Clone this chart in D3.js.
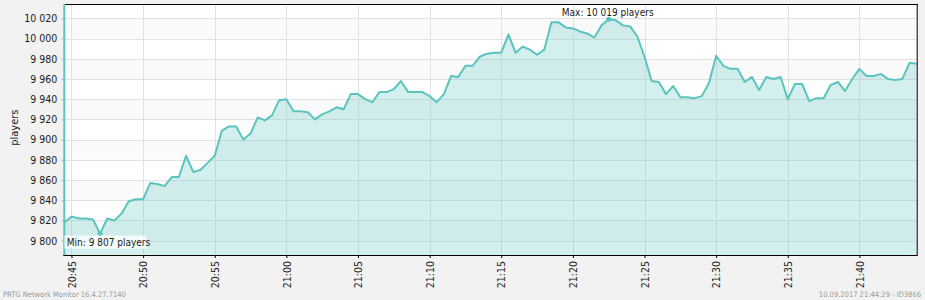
<!DOCTYPE html>
<html>
<head>
<meta charset="utf-8">
<script src="https://cdn.jsdelivr.net/npm/d3@7"></script>
<style>
  html, body { margin: 0; padding: 0; background: #f2f2f2; }
  svg { display: block; }
  text { font-family: 'DejaVu Sans Condensed', 'DejaVu Sans', sans-serif; font-stretch: condensed; }
</style>
</head>
<body>
<svg id="chart" width="925" height="300"></svg>
<script>
// ---- data ----
const startTime = "2017-09-10T20:44:30";
const intervalSeconds = 30;
const players = [
  9818, 9824, 9822, 9822, 9821, 9807, 9822, 9820, 9827, 9839,
  9841, 9841, 9857, 9856, 9854, 9863, 9863, 9884, 9868, 9870,
  9877, 9884, 9909, 9913, 9913, 9900, 9906, 9922, 9919, 9924,
  9939, 9940, 9928, 9928, 9927, 9920, 9925, 9928, 9932, 9930,
  9945, 9945, 9940, 9937, 9947, 9947, 9950, 9958, 9947, 9947,
  9947, 9943, 9937, 9945, 9963, 9962, 9973, 9973, 9982, 9985,
  9986, 9986, 10004, 9986, 9992, 9989, 9984, 9989, 10016, 10016,
  10011, 10010, 10007, 10005, 10001, 10013, 10019, 10018, 10013, 10012,
  10002, 9982, 9958, 9957, 9945, 9953, 9942, 9942, 9941, 9943,
  9956, 9983, 9973, 9970, 9970, 9957, 9962, 9949, 9962, 9960,
  9962, 9940, 9955, 9955, 9938, 9941, 9941, 9954, 9957, 9948,
  9960, 9970, 9963, 9963, 9965, 9960, 9959, 9960, 9976, 9975
];
const yTicks = [9800, 9820, 9840, 9860, 9880, 9900, 9920, 9940, 9960, 9980, 10000, 10020];
const xTickLabels = ["20:45","20:50","20:55","21:00","21:05","21:10","21:15","21:20","21:25","21:30","21:35","21:40"];
const yAxisTitle = "players";
const footerLeft = "PRTG Network Monitor 16.4.27.7140";
const footerRight = "10.09.2017 21:44:29 - ID3866";

// ---- build ----
const t0 = new Date(startTime);
const data = players.map((v, i) => ({ t: new Date(t0.getTime() + i * intervalSeconds * 1000), v }));
const xTicks = xTickLabels.map(s => new Date("2017-09-10T" + s + ":00"));

const svg = d3.select("#chart");
const L = 64.3, R = 916.7, T = 4.3, B = 255;

const x = d3.scaleTime().domain([data[0].t, data[data.length - 1].t]).range([L, R]);
const y = d3.scaleLinear().domain([9785.85, 10033.85]).range([B, T]);

const loc = d3.formatLocale({ decimal: ",", thousands: " ", grouping: [3], currency: ["", ""] });
const fmt = loc.format(",d");

// plot background
svg.append("rect").attr("x", L).attr("y", T).attr("width", R - L).attr("height", B - T).attr("fill", "#ffffff");

// alternating bands
for (let k = 0; k < yTicks.length - 1; k++) {
  if (k % 2 === 0) {
    svg.append("rect")
      .attr("x", L).attr("width", R - L)
      .attr("y", y(yTicks[k + 1])).attr("height", y(yTicks[k]) - y(yTicks[k + 1]))
      .attr("fill", "#fafafa");
  }
}

// grid
const grid = svg.append("g").attr("stroke", "#e2e2e2").attr("stroke-width", 1).attr("shape-rendering", "crispEdges");
grid.selectAll("line.h").data(yTicks).join("line")
  .attr("x1", L).attr("x2", R).attr("y1", d => Math.round(y(d)) + 0.5).attr("y2", d => Math.round(y(d)) + 0.5);
grid.selectAll("line.v").data(xTicks).join("line")
  .attr("y1", T).attr("y2", B).attr("x1", d => Math.round(x(d)) + 0.5).attr("x2", d => Math.round(x(d)) + 0.5);

// area
const area = d3.area().x(d => x(d.t)).y0(B).y1(d => y(d.v));
svg.append("path").datum(data).attr("d", area).attr("fill", "rgba(91,196,191,0.27)");

// line
const line = d3.line().x(d => x(d.t)).y(d => y(d.v));
svg.append("path").datum(data).attr("d", line)
  .attr("fill", "none").attr("stroke", "#5bc4bf").attr("stroke-width", 2).attr("stroke-linejoin", "round");

// borders
svg.append("line").attr("x1", L).attr("x2", R + 1).attr("y1", 4.5).attr("y2", 4.5).attr("stroke", "#000");
svg.append("line").attr("x1", R + 0.5).attr("x2", R + 0.5).attr("y1", 4).attr("y2", B).attr("stroke", "#000");

// y axis
const yAxis = d3.axisLeft(y).tickValues(yTicks).tickFormat(fmt).tickSize(3).tickPadding(4);
const gy = svg.append("g").attr("transform", `translate(${L},0)`).call(yAxis);
gy.select(".domain").remove();
gy.selectAll(".tick line").attr("stroke", "#bbbbbb");
gy.selectAll(".tick text").attr("font-size", "10.5px").attr("fill", "#1a1a1a")
  .style("font-family", "'DejaVu Sans Condensed', 'DejaVu Sans', sans-serif");
svg.append("line").attr("x1", L).attr("x2", L).attr("y1", 4).attr("y2", B + 1)
  .attr("stroke", "#5bc4bf").attr("stroke-width", 2);

// x axis
const xAxis = d3.axisBottom(x).tickValues(xTicks).tickFormat(d3.timeFormat("%H:%M")).tickSize(3).tickPadding(4);
const gx = svg.append("g").attr("transform", `translate(0,${B})`).call(xAxis);
gx.select(".domain").remove();
gx.selectAll(".tick line").attr("stroke", "#000");
gx.selectAll(".tick text")
  .attr("font-size", "10.5px").attr("fill", "#1a1a1a")
  .style("font-family", "'DejaVu Sans Condensed', 'DejaVu Sans', sans-serif")
  .attr("text-anchor", "end").attr("dy", "0.35em")
  .attr("transform", "rotate(-90)").attr("x", -6).attr("y", 0);
svg.append("line").attr("x1", L - 1).attr("x2", R + 1).attr("y1", B + 0.5).attr("y2", B + 0.5).attr("stroke", "#000");

// y axis title
svg.append("text").attr("transform", `translate(18,${(T + B) / 2 - 2}) rotate(-90)`)
  .attr("text-anchor", "middle").attr("font-size", "11px").attr("fill", "#1a1a1a").text(yAxisTitle);

// min / max
const minD = data.reduce((a, b) => (b.v < a.v ? b : a));
const maxD = data.reduce((a, b) => (b.v > a.v ? b : a));
svg.append("circle").attr("cx", x(minD.t)).attr("cy", y(minD.v)).attr("r", 2.5).attr("fill", "#5bc4bf");
svg.append("circle").attr("cx", x(maxD.t)).attr("cy", y(maxD.v)).attr("r", 2.5).attr("fill", "#5bc4bf");

svg.append("rect").attr("x", L).attr("y", 235.5).attr("width", 82).attr("height", 13)
  .attr("fill", "rgba(255,255,255,0.75)");
svg.append("text").attr("x", L + 2.5).attr("y", 246).attr("font-size", "10px").attr("fill", "#1a1a1a")
  .text("Min: " + fmt(minD.v) + " players");
svg.append("text").attr("x", x(maxD.t) - 1).attr("y", 15.5).attr("text-anchor", "middle")
  .attr("font-size", "10px").attr("fill", "#1a1a1a")
  .text("Max: " + fmt(maxD.v) + " players");

// footers
svg.append("text").attr("x", 3).attr("y", 297).attr("font-size", "7.5px").attr("fill", "#9a9a9a").text(footerLeft);
svg.append("text").attr("x", 921).attr("y", 297).attr("text-anchor", "end").attr("font-size", "7.5px").attr("fill", "#9a9a9a").text(footerRight);
</script>
</body>
</html>
